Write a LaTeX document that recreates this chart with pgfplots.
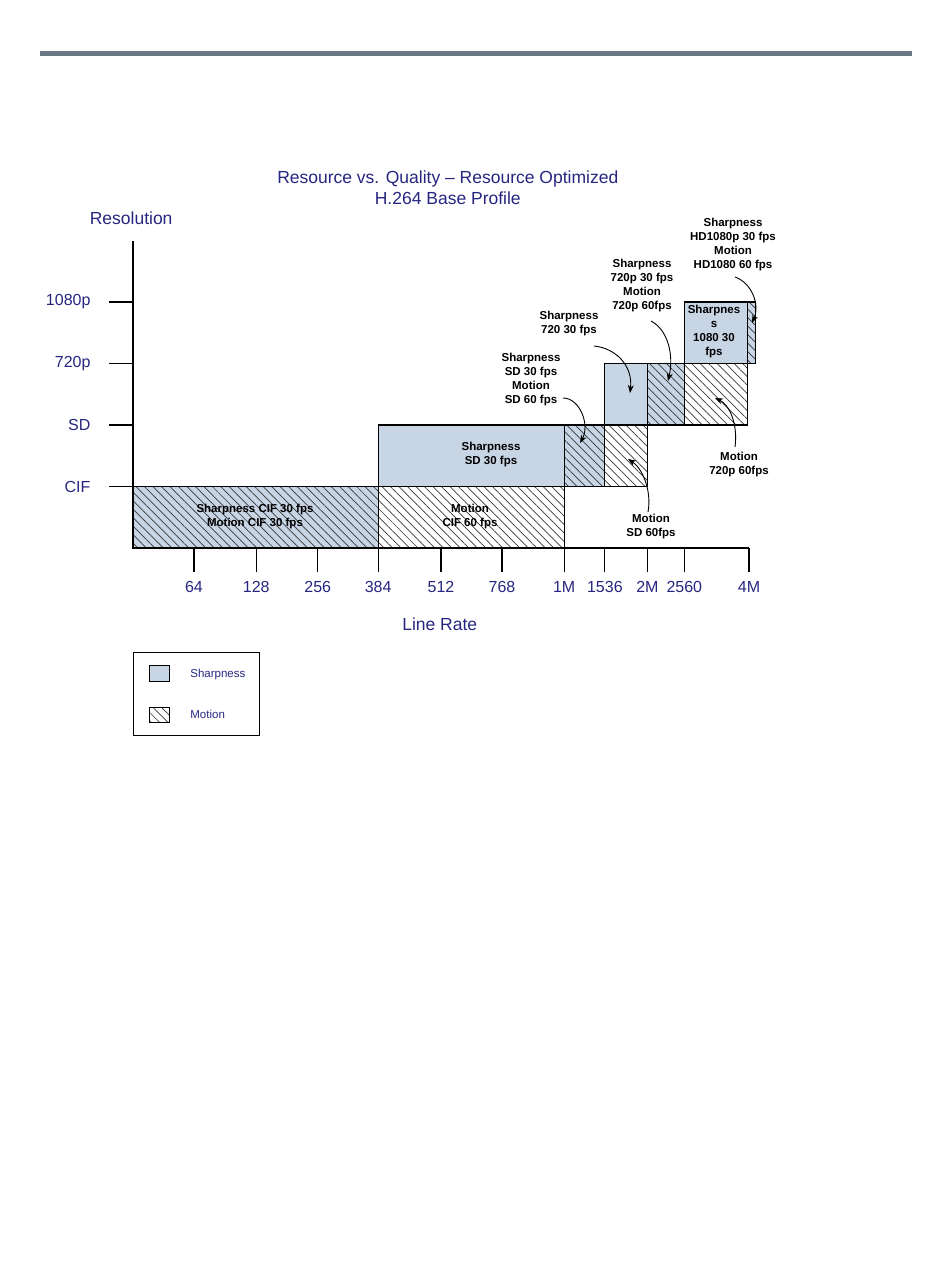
\documentclass[border=0pt]{standalone}
\usepackage{pgfplots}
\pgfplotsset{compat=1.18}
\usepackage{fontspec}
\setmainfont{Liberation Sans}
\usetikzlibrary{patterns.meta,arrows.meta}

\definecolor{navy}{RGB}{38,38,128}
\definecolor{lightblue}{RGB}{200,213,229}
\definecolor{hatch}{RGB}{55,55,55}
\definecolor{rulegray}{RGB}{108,119,133}

\tikzset{
  hatchfill/.style={pattern={Lines[angle=-45,distance=6pt,line width=0.7pt]}, pattern color=hatch},
  sharp/.style={draw=black, line width=1.1pt, fill=lightblue},
  motion/.style={draw=black, line width=1.1pt, hatchfill},
  both/.style={draw=black, line width=1.1pt, fill=lightblue, postaction={hatchfill}},
  note/.style={font=\fontsize{11.5}{14}\selectfont\bfseries, align=center, text=black},
  pointer/.style={line width=0.9pt, -{Stealth[length=8pt,width=6pt]}},
}

\begin{document}
\begin{tikzpicture}
\path[use as bounding box] (0,0) rectangle (950pt,-1284pt);

\begin{axis}[
    at={(133pt,-548pt)}, anchor=south west,
    x=61.6pt, y=61.5pt,
    xmin=0, xmax=10, ymin=0, ymax=5,
    clip=false,
    axis lines*=left,
    axis line style={line width=1.3pt},
    tick align=outside,
    major tick length=24pt,
    tick style={line width=1.2pt, black},
    xtick={0.99,2,3,3.98,5,5.99,7,7.66,8.35,8.95,10},
    xticklabels={64,128,256,384,512,768,1M,1536,2M,2560,4M},
    ytick={1,2,3,4},
    yticklabels={CIF,SD,720p,1080p},
    tick label style={font=\fontsize{16}{18}\selectfont, text=navy},
    xticklabel style={yshift=-6pt},
    yticklabel style={xshift=-15pt},
    xlabel={Line Rate},
    xlabel style={at={(axis description cs:0.498,-0.247)}, anchor=center,
                  font=\fontsize{17.5}{20}\selectfont, text=navy},
    ylabel={Resolution},
    ylabel style={at={(axis description cs:-0.003,1.0714)}, rotate=-90, anchor=center,
                  font=\fontsize{17.5}{20}\selectfont, text=navy},
    title={Resource vs. Quality -- Resource Optimized\\H.264 Base Profile},
    title style={at={(axis description cs:0.511,1.151)}, anchor=center, align=center,
                 font=\fontsize{17.5}{21}\selectfont, text=navy},
    legend style={at={(axis description cs:0,-0.3377)}, anchor=north west,
                  draw=black, line width=0.8pt, text=navy,
                  font=\fontsize{11.5}{13}\selectfont,
                  inner xsep=12pt, inner ysep=13pt, row sep=25pt,
                  cells={anchor=west}},
]
% CIF row
\addplot[both, forget plot] coordinates {(0,0) (3.98,0) (3.98,1) (0,1)} --cycle;
\addplot[motion, forget plot] coordinates {(3.98,0) (7,0) (7,1) (3.98,1)} --cycle;
% SD row
\addplot[sharp, forget plot] coordinates {(3.98,1) (7,1) (7,2) (3.98,2)} --cycle;
\addplot[both, forget plot] coordinates {(7,1) (7.66,1) (7.66,2) (7,2)} --cycle;
\addplot[motion, forget plot] coordinates {(7.66,1) (8.35,1) (8.35,2) (7.66,2)} --cycle;
% 720p row
\addplot[sharp, forget plot] coordinates {(7.66,2) (8.35,2) (8.35,3) (7.66,3)} --cycle;
\addplot[both, forget plot] coordinates {(8.35,2) (8.95,2) (8.95,3) (8.35,3)} --cycle;
\addplot[motion, forget plot] coordinates {(8.95,2) (9.97,2) (9.97,3) (8.95,3)} --cycle;
% 1080p row
\addplot[sharp, forget plot] coordinates {(8.95,3) (9.97,3) (9.97,4) (8.95,4)} --cycle;
\addplot[both, forget plot] coordinates {(9.97,3) (10.1,3) (10.1,4) (9.97,4)} --cycle;

\addlegendimage{legend image code/.code={
  \path[draw=none] (0pt,0pt) -- (40pt,0pt);
  \draw[black, line width=0.8pt, fill=lightblue] (4pt,-8pt) rectangle (24pt,8pt);}}
\addlegendentry{Sharpness}
\addlegendimage{legend image code/.code={
  \path[draw=none] (0pt,0pt) -- (43pt,0pt);
  \draw[black, line width=0.8pt, hatchfill] (4pt,-7.5pt) rectangle (24pt,7.5pt);}}
\addlegendentry{Motion}
\end{axis}

\begin{scope}[x=1pt, y=-1pt]
% page rule
\fill[rulegray] (40,51) rectangle (912,56);
% labels inside boxes
\node[note] at (255,517) {Sharpness CIF 30 fps\\Motion CIF 30 fps};
\node[note] at (470,517) {Motion\\CIF 60 fps};
\node[note] at (491,455) {Sharpness\\SD 30 fps};
\node[note] at (714,332) {Sharpnes\\s\\1080 30\\fps};
% callouts
\node[note] at (733,245) {Sharpness\\HD1080p 30 fps\\Motion\\HD1080 60 fps};
\node[note] at (642,286) {Sharpness\\720p 30 fps\\Motion\\720p 60fps};
\node[note] at (569,324) {Sharpness\\720 30 fps};
\node[note] at (531,380) {Sharpness\\SD 30 fps\\Motion\\SD 60 fps};
\node[note] at (739,465) {Motion\\720p 60fps};
\node[note] at (651,527) {Motion\\SD 60fps};
\draw[pointer] (735,277) .. controls (752,283) and (760,305) .. (752,323);
\draw[pointer] (651,321) .. controls (668,330) and (674,355) .. (668,381);
\draw[pointer] (594,346) .. controls (615,348) and (633,365) .. (630,393);
\draw[pointer] (563,398) .. controls (580,398) and (590,425) .. (580,443);
\draw[pointer] (735,447) .. controls (738,425) and (730,405) .. (715,398);
\draw[pointer] (648,512) .. controls (652,490) and (642,468) .. (628,459);
\end{scope}
\end{tikzpicture}
\end{document}
